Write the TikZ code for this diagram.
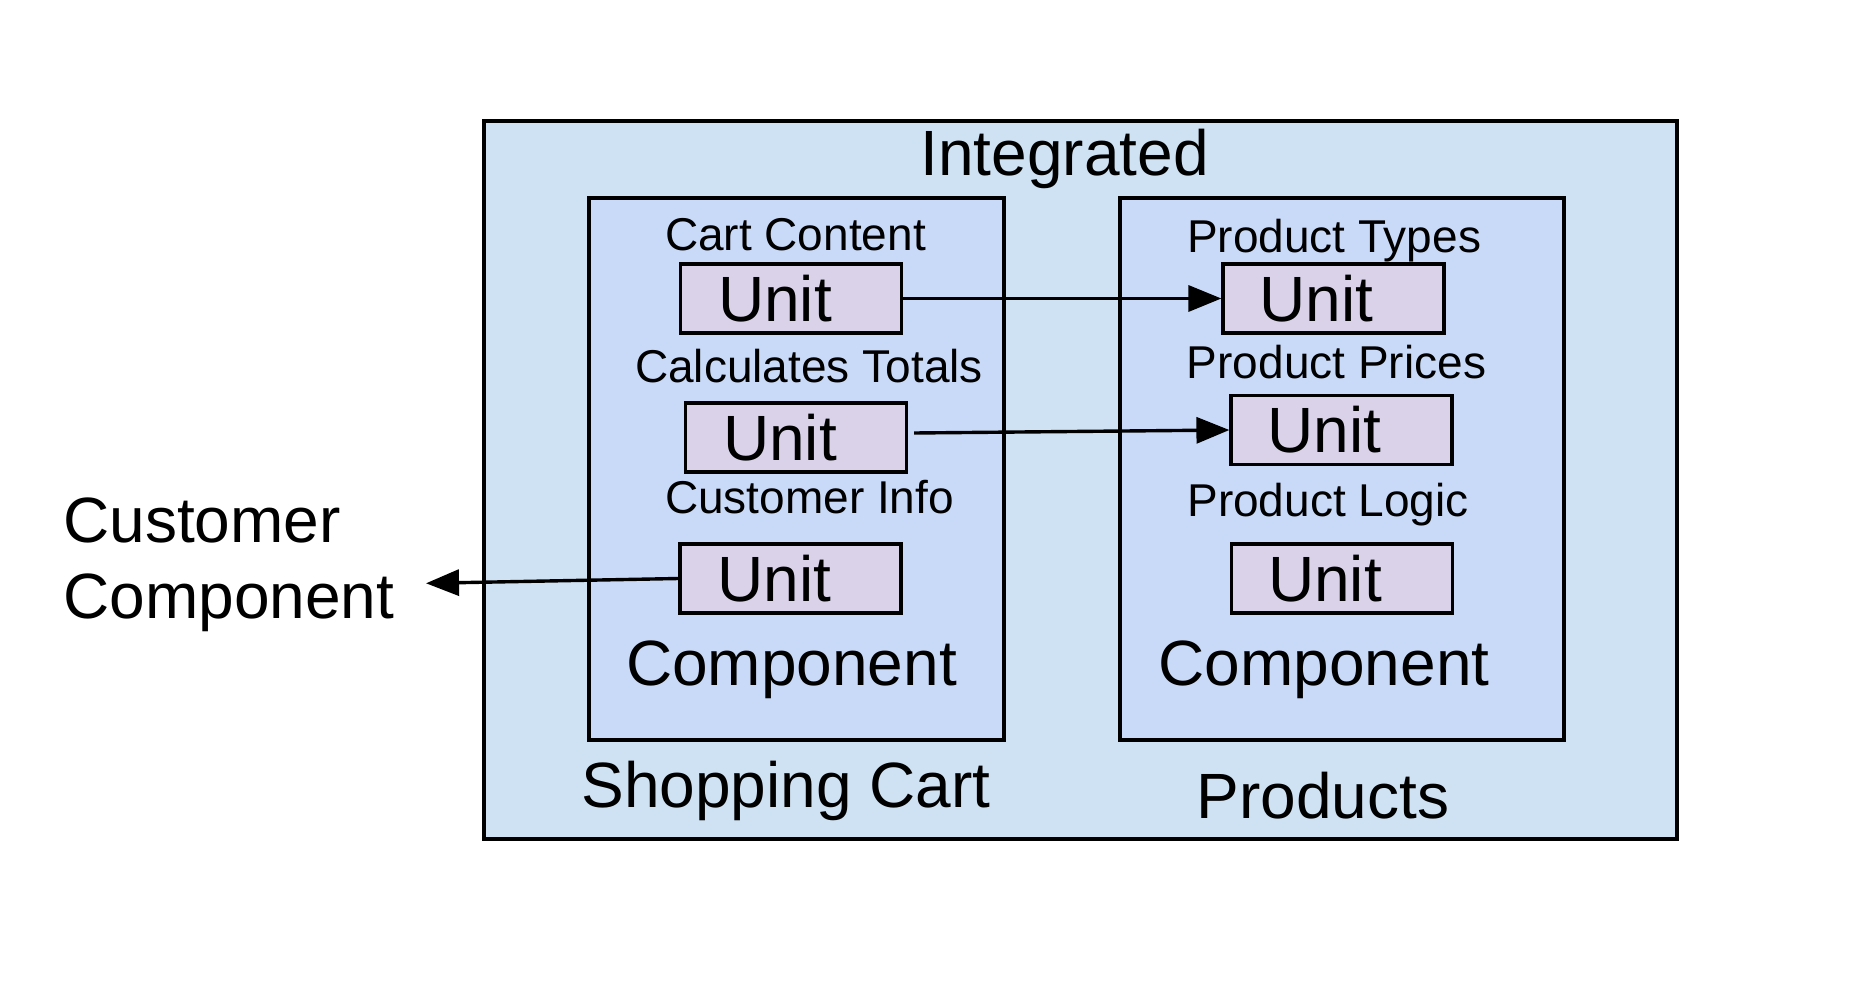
\documentclass[tikz,border=0pt]{standalone}
\usepackage{fontspec}
\setmainfont{Liberation Sans}
\usetikzlibrary{arrows.meta}
\definecolor{outerfill}{HTML}{CFE2F3}
\definecolor{innerfill}{HTML}{C9DAF8}
\definecolor{unitfill}{HTML}{D9D2E9}
\begin{document}
\begin{tikzpicture}[x=0.5pt,y=-0.5pt,
  outerbox/.style={draw=black, line width=1.6pt, fill=outerfill, minimum width=596.5pt, minimum height=359pt, inner sep=0pt},
  compbox/.style={draw=black, line width=1.6pt, fill=innerfill, minimum height=271pt, inner sep=0pt},
  unitbox/.style={draw=black, line width=1.6pt, fill=unitfill, minimum width=110.5pt, minimum height=34.5pt, inner sep=0pt, font=\fontsize{32pt}{38pt}\selectfont},
  bigtxt/.style={inner sep=0pt, anchor=base, font=\fontsize{32pt}{38pt}\selectfont},
  smalltxt/.style={inner sep=0pt, anchor=base, font=\fontsize{23pt}{28pt}\selectfont},
  conn/.style={line width=1.7pt, -{Triangle[length=16.5pt,width=13pt]}}
]
\useasboundingbox (0,0) rectangle (1872,984);
\node[outerbox] (outer) at (1080.5,480) {};
\node[compbox, minimum width=207.5pt] (cart) at (796.5,469) {};
\node[compbox, minimum width=222pt] (prod) at (1342,469) {};

\node[bigtxt] (integ) at (1064.5,176) {Integrated};

\node[smalltxt] (lcc) at (795.5,250) {Cart Content};
\node[smalltxt] (lct) at (809,382) {Calculates Totals};
\node[smalltxt] (lci) at (809.5,513) {Customer Info};
\node[smalltxt] (lpt) at (1334,252) {Product Types};
\node[smalltxt] (lpp) at (1336.5,378) {Product Prices};
\node[smalltxt] (lpl) at (1328,516) {Product Logic};

\node[unitbox] (u1) at (791,298.5) {Unit\hspace*{16pt}};
\node[unitbox] (u2) at (796,437.5) {Unit\hspace*{16pt}};
\node[unitbox] (u3) at (790.5,578.5) {Unit\hspace*{16pt}};
\node[unitbox] (u4) at (1333.5,298.5) {Unit\hspace*{17pt}};
\node[unitbox] (u5) at (1341.5,430) {Unit\hspace*{17pt}};
\node[unitbox] (u6) at (1342,578.5) {Unit\hspace*{17pt}};

\node[bigtxt] (compl) at (791.5,685) {Component};
\node[bigtxt] (compr) at (1324,685) {Component};
\node[bigtxt] (shop) at (786,807) {Shopping Cart};
\node[bigtxt] (prods) at (1323,818) {Products};

\node[bigtxt, anchor=base west] (custa) at (63,542) {Customer};
\node[bigtxt, anchor=base west] (custb) at (63,618) {Component};
\coordinate (custend) at (426,583.3);

\draw[conn] (u1.east) -- (u4.west);
\draw[conn] ([shift={(6,-4.5)}]u2.east) -- (u5.west);
\draw[conn] (u3.west) -- (custend);
\end{tikzpicture}
\end{document}
